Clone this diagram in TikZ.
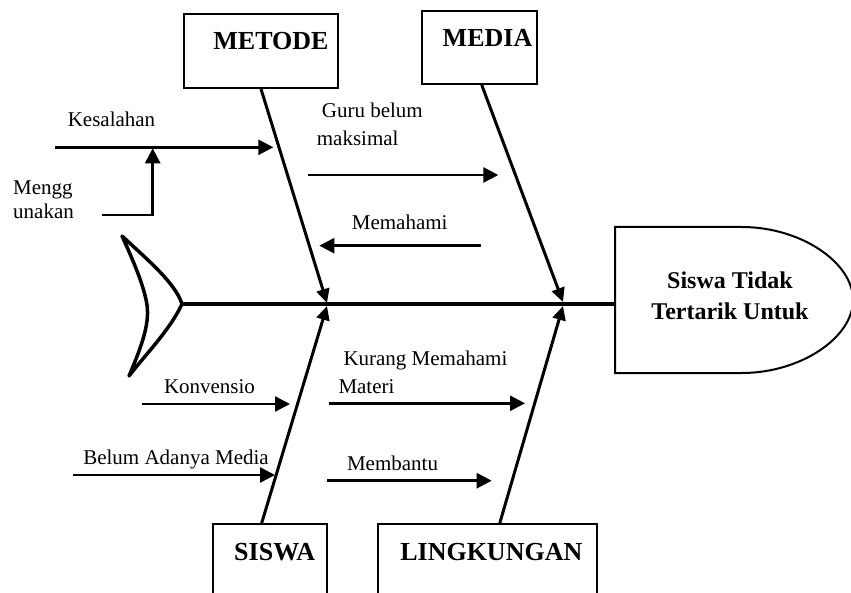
\documentclass[tikz,border=0pt]{standalone}
\usepackage{fontspec}
\setmainfont{Liberation Serif}
\usetikzlibrary{arrows.meta,calc}
\begin{document}
\begin{tikzpicture}[x=1pt,y=-1pt,
  box/.style={draw,line width=2pt,inner sep=0pt},
  lbl/.style={inner sep=0pt,font=\fontsize{21}{26}\selectfont},
  hd/.style={inner sep=0pt,font=\fontsize{26}{30}\selectfont\bfseries},
  bone/.style={line width=3pt,-{Triangle[length=14pt,width=13pt]}},
  sub/.style={line width=2.6pt,-{Triangle[length=15pt,width=15pt]}},
  spine/.style={line width=4pt},
  outline/.style={line width=3.5pt,line join=round}]
\useasboundingbox (0,0) rectangle (851,593);
\clip (0,0) rectangle (851,593);
\fill[white] (0,0) rectangle (851,593);

% head
\draw[line width=2pt] (615,227) -- (742,227) .. controls (800,227) and (853,262) .. (853,300)
  .. controls (853,338) and (800,373) .. (742,373) -- (615,373) -- cycle;
\node[inner sep=0pt,align=center,font=\fontsize{24}{31}\selectfont\bfseries] (head) at (730,295.7) {Siswa Tidak\\Tertarik Untuk};
\coordinate (headL) at (615,304);

% tail
\draw[outline] (122,236) .. controls (150,262) and (175,283) .. (182,304)
  .. controls (170,330) and (145,355) .. (129,376)
  .. controls (140,350) and (150,325) .. (147,305)
  .. controls (144,285) and (132,258) .. (122,236) -- cycle;
\coordinate (tail) at (182,304);
\draw[spine] (tail) -- (headL);

% boxes
\node[box,minimum width=154pt,minimum height=74pt] (mtd) at (261,51) {};
\node[box,minimum width=115pt,minimum height=73pt] (med) at (479.2,47.4) {};
\node[box,minimum width=114pt,minimum height=100pt] (ssw) at (269.7,574) {};
\node[box,minimum width=219pt,minimum height=100pt] (lkg) at (487.8,574) {};
\node[hd,anchor=base] (mtdT) at (271,50) {METODE};
\node[hd,anchor=base] (medT) at (487.5,46.7) {MEDIA};
\node[hd,anchor=base] (sswT) at (274.7,560.7) {SISWA};
\node[hd,anchor=base] (lkgT) at (491.3,560.7) {LINGKUNGAN};

% junctions
\coordinate (j1t) at (327,303);
\coordinate (j2t) at (563,302);
\coordinate (j1b) at (327,306);
\coordinate (j2b) at (563,306);

\draw[bone] (mtd.south) -- (j1t);
\draw[bone] ([xshift=2.5pt]med.south) -- (j2t);
\draw[bone] ([xshift=-8pt]ssw.north) -- (j1b);
\draw[bone] ([xshift=12pt]lkg.north) -- (j2b);

% sub causes top
\node[lbl,anchor=base] (kes) at (111.5,126.7) {Kesalahan};
\coordinate (kesS) at (55,147.3);
\coordinate (kesE) at (273.3,147.3);
\draw[sub] (kesS) -- (kesE);
\node[lbl,anchor=west,align=left,font=\fontsize{21}{24}\selectfont] (meng) at (13,200) {Mengg\\unakan};
\coordinate (mengS) at (101.7,215);
\coordinate (mengE) at (152.7,148.3);
\draw[sub,line join=miter] (mengS) -| (mengE);

\node[lbl,anchor=west,align=left,font=\fontsize{21}{27.7}\selectfont] (guru) at (316.7,124) {\hspace{5pt}Guru belum\\maksimal};
\coordinate (guruS) at (308.3,175);
\coordinate (guruE) at (498.3,175);
\draw[sub] (guruS) -- (guruE);
\node[lbl,anchor=base] (mem) at (399.7,230) {Memahami};
\coordinate (memS) at (480.7,245.7);
\coordinate (memE) at (319.3,245.7);
\draw[sub] (memS) -- (memE);

% sub causes bottom
\node[lbl,anchor=base] (konv) at (209.5,393.3) {Konvensio};
\coordinate (konvS) at (141.7,404);
\coordinate (konvE) at (290,404);
\draw[sub] (konvS) -- (konvE);
\node[lbl,anchor=west,align=left,font=\fontsize{21}{28}\selectfont] (kur) at (338.3,372) {\hspace{5pt}Kurang Memahami\\Materi};
\coordinate (kurS) at (329.3,403.3);
\coordinate (kurE) at (525,403.3);
\draw[sub] (kurS) -- (kurE);
\node[lbl,anchor=base] (bel) at (176,464) {Belum Adanya Media};
\coordinate (belS) at (73.3,475);
\coordinate (belE) at (275,475);
\draw[sub] (belS) -- (belE);
\node[lbl,anchor=base] (memb) at (392.5,470) {Membantu};
\coordinate (membS) at (327.3,480.7);
\coordinate (membE) at (491.7,480.7);
\draw[sub] (membS) -- (membE);
\end{tikzpicture}
\end{document}
